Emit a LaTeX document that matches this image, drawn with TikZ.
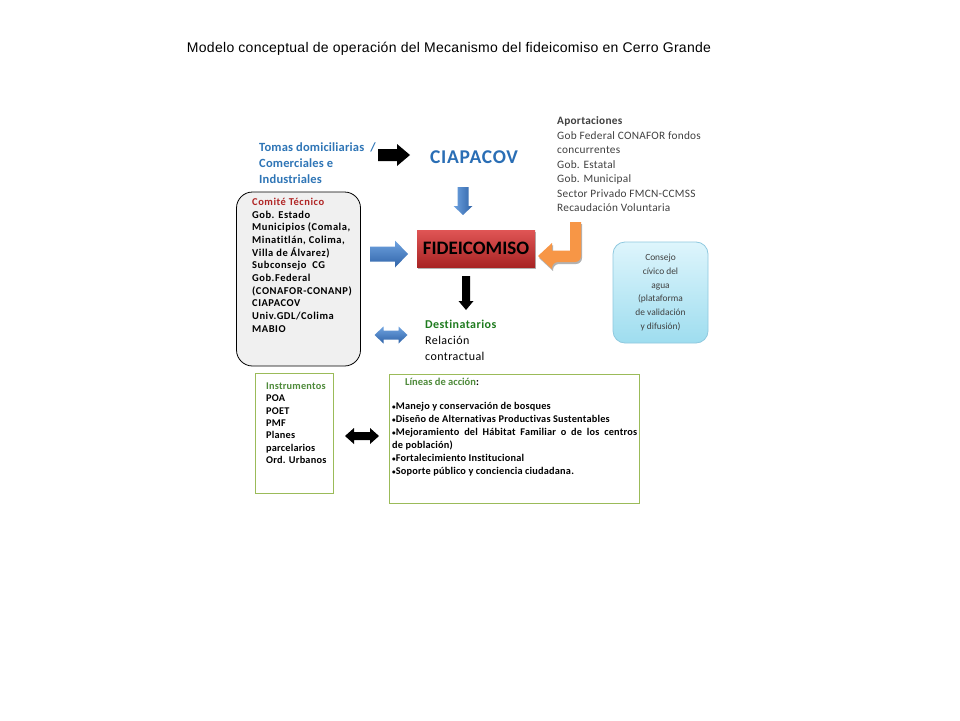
\documentclass[tikz,border=0pt]{standalone}
\usepackage{fontspec}
\setmainfont{Carlito}[Ligatures=NoCommon]
\newfontfamily\arialfont{Liberation Sans}
\usetikzlibrary{shadows}
\definecolor{tblue}{HTML}{2E75B6}
\definecolor{cblue}{HTML}{2A6EB5}
\definecolor{dred}{HTML}{B02424}
\definecolor{dgreen}{HTML}{1E7B1E}
\definecolor{igreen}{HTML}{4E8A3A}
\definecolor{bgreen}{HTML}{9BBB59}
\definecolor{aptxt}{HTML}{404040}
\definecolor{orangeA}{HTML}{F79646}
\definecolor{blueL}{HTML}{6FA3E0}
\definecolor{blueD}{HTML}{2F63A8}
\definecolor{redT}{HTML}{E05555}
\definecolor{redB}{HTML}{A82424}
\definecolor{cyanT}{HTML}{DEF5FC}
\definecolor{cyanB}{HTML}{9EDDEF}
\definecolor{cyanE}{HTML}{8FC9DF}
\newcommand\smbul{\raisebox{0.12ex}{\scalebox{0.7}{•}}}
\tikzset{
  pics/sarrow/.style n args={4}{code={%
    \path[pic actions] (-#1/2,-#2/2) -- (#1/2-#4,-#2/2) -- (#1/2-#4,-#3/2) -- (#1/2,0)
      -- (#1/2-#4,#3/2) -- (#1/2-#4,#2/2) -- (-#1/2,#2/2) -- cycle;}},
  pics/darrow/.style n args={4}{code={%
    \path[pic actions] (-#1/2,0) -- (-#1/2+#4,-#3/2) -- (-#1/2+#4,-#2/2) -- (#1/2-#4,-#2/2)
      -- (#1/2-#4,-#3/2) -- (#1/2,0) -- (#1/2-#4,#3/2) -- (#1/2-#4,#2/2)
      -- (-#1/2+#4,#2/2) -- (-#1/2+#4,#3/2) -- cycle;}},
  softshadow/.style={drop shadow={shadow xshift=1pt,shadow yshift=-2pt,opacity=0.3,fill=black}},
  blackarr/.style={fill=black},
  bluearrh/.style={top color=blueL,bottom color=blueD,softshadow},
  bluearrv/.style={left color=blueL,right color=blueD,softshadow},
  txt/.style={anchor=north west,inner sep=0pt,align=left},
  gbox/.style={draw=bgreen,line width=0.8pt},
}
\begin{document}
\begin{tikzpicture}[x=1pt,y=-1pt]
\useasboundingbox (0,0) rectangle (960,720);
\fill[white] (0,0) rectangle (960,720);

% title
\node[anchor=base,inner sep=0pt,font=\arialfont\fontsize{14}{16}\selectfont\addfontfeature{LetterSpace=2}] (title) at (449,52)
  {Modelo conceptual de operación del Mecanismo del fideicomiso en Cerro Grande};

% Tomas
\node[txt,font=\bfseries\fontsize{12.5}{16}\selectfont\addfontfeature{LetterSpace=1.5},text=tblue] (tomas) at (259,142.5)
  {Tomas domiciliarias \ /\\Comerciales e\\Industriales};
\pic[blackarr] at (394,155) {sarrow={32}{12}{22}{13}};

% CIAPACOV
\node[anchor=base,inner sep=0pt,font=\bfseries\fontsize{19.5}{22}\selectfont\addfontfeature{LetterSpace=4},text=cblue] (ciapacov) at (474,163) {CIAPACOV};
\pic[bluearrv,rotate=-90] at (463,201) {sarrow={28}{11}{19}{9}};

% Aportaciones
\node[txt,font=\fontsize{11.3}{14.5}\selectfont\addfontfeature{LetterSpace=2.3},text=aptxt] (aport) at (557,116.5)
  {\textbf{Aportaciones}\\Gob Federal CONAFOR fondos\\concurrentes\\Gob. Estatal\\Gob. Municipal\\Sector Privado FMCN-CCMSS\\Recaudación Voluntaria};

% FIDEICOMISO
\node[minimum width=118pt,minimum height=37pt,top color=redT,bottom color=redB,
  softshadow,font=\bfseries\fontsize{19}{22}\selectfont,text=black] (fid) at (476,248.5) {FIDEICOMISO};

% orange bent arrow
\path[fill=orangeA,softshadow] (570,222) -- (581,222) [rounded corners=6pt] -- (581,262) -- (552,262)
  [sharp corners] -- (552,269) -- (538,256) -- (552,243) -- (552,250.5) -- (570,250.5) -- cycle;

% Comite
\node[draw=black,line width=0.8pt,fill=black!6,rounded corners=16pt,minimum width=124pt,minimum height=174pt] (comite) at (298.5,279) {};
\node[txt,font=\bfseries\fontsize{10.5}{12.65}\selectfont\addfontfeature{LetterSpace=5}] (comitetxt) at (252,198)
  {\textcolor{dred}{Comité Técnico}\\Gob. Estado\\Municipios (Comala,\\Minatitlán, Colima,\\Villa de Álvarez)\\Subconsejo \ CG\\Gob.Federal\\(CONAFOR-CONANP)\\CIAPACOV\\Univ.GDL/Colima\\MABIO};
\pic[bluearrh] at (389,254) {sarrow={38}{15}{27}{13}};

% down black arrow
\pic[blackarr,rotate=-90] at (466,293) {sarrow={34}{8}{15}{9}};

% Destinatarios
\pic[bluearrh] at (391,335) {darrow={33}{9}{17}{9}};
\node[txt,font=\fontsize{12}{16}\selectfont\addfontfeature{LetterSpace=3.5}] (dest) at (425,319.5)
  {\textcolor{dgreen}{\bfseries Destinatarios}\\Relación\\contractual};

% Consejo
\node[draw=cyanE,line width=0.8pt,rounded corners=12pt,top color=cyanT,bottom color=cyanB,
  minimum width=95pt,minimum height=101pt,align=center,text=aptxt,font=\fontsize{9.4}{13.8}\selectfont] (consejo) at (660.5,292.5)
  {Consejo\\cívico del\\agua\\(plataforma\\de validación\\y difusión)};

% Instrumentos
\node[gbox,minimum width=78pt,minimum height=120pt] (instbox) at (294.5,433.5) {};
\node[txt,font=\bfseries\fontsize{10.3}{12.4}\selectfont\addfontfeature{LetterSpace=2}] (insttxt) at (266,382.5)
  {\textcolor{igreen}{Instrumentos}\\POA\\POET\\PMF\\Planes\\parcelarios\\Ord. Urbanos};
\pic[blackarr] at (362,436) {darrow={34}{8}{16}{9}};

% Lineas de accion
\node[gbox,minimum width=250pt,minimum height=129pt] (linbox) at (514,438.5) {};
\node[txt,font=\bfseries\fontsize{10.5}{12}\selectfont] (linhead) at (405,378)
  {\textcolor{igreen}{Líneas de acción}:};
\node[anchor=north west,inner sep=0pt,text width=245pt,align=justify,font=\bfseries\fontsize{10.3}{13}\selectfont\addfontfeature{LetterSpace=2}] (lintxt) at (392,402.5)
  {\smbul Manejo y conservación de bosques\\
   \smbul Diseño de Alternativas Productivas Sustentables\\
   \smbul Mejoramiento del Hábitat Familiar o de los centros\linebreak de población)\\
   \smbul Fortalecimiento Institucional\\
   \smbul Soporte público y conciencia ciudadana.};
\end{tikzpicture}
\end{document}
